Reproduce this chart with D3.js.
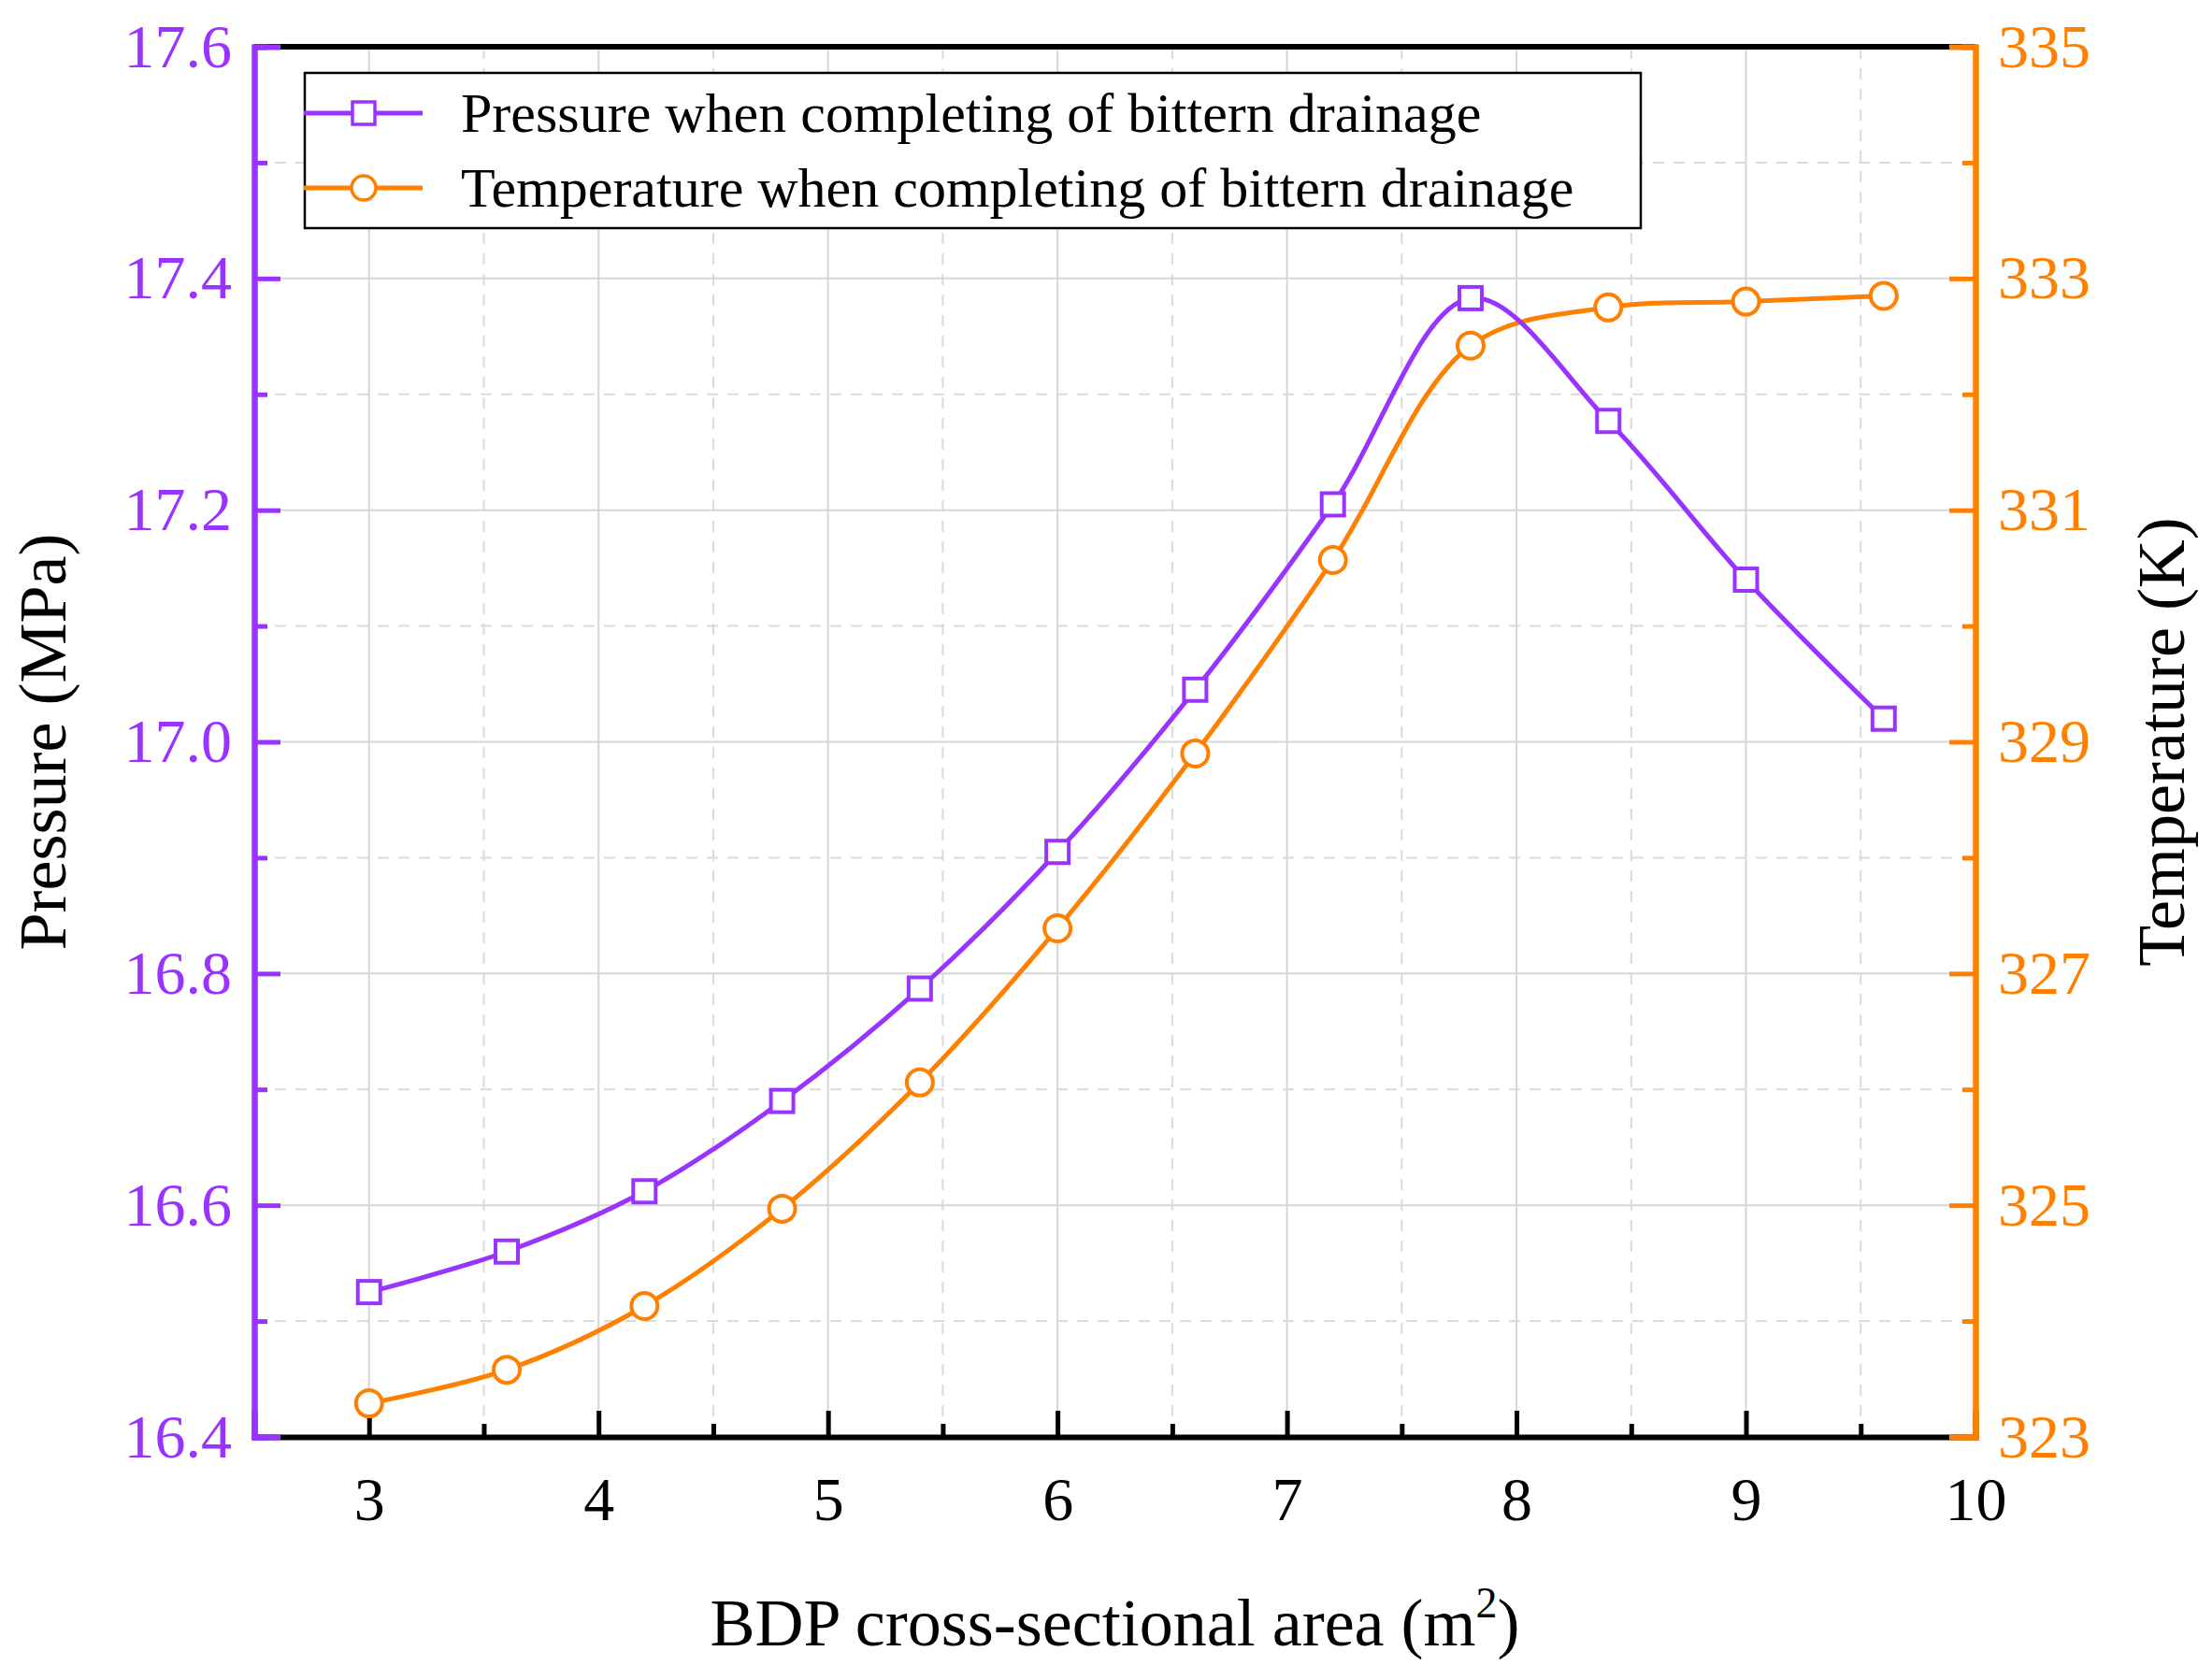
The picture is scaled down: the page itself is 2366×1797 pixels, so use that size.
<!DOCTYPE html>
<html>
<head>
<meta charset="utf-8">
<script src="https://cdn.jsdelivr.net/npm/d3@7"></script>
<style>
  body { margin: 0; background: #fff; }
  svg text { font-family: "Liberation Serif", "Times New Roman", serif !important; }
</style>
</head>
<body>
<div id="chart"></div>
<script>
// chart size and plot box
const width = 2366;
const height = 1797;
const margin = {left: 272, right: 253, top: 50, bottom: 260};

const purple = "#9933ff";
const orange = "#ff8000";
const serif = "Liberation Serif, Times New Roman, serif";

// data
const area = [3, 3.6, 4.2, 4.8, 5.4, 6, 6.6, 7.2, 7.8, 8.4, 9, 9.6];
const pressure = [16.525, 16.56, 16.612, 16.69, 16.787, 16.905, 17.045, 17.205, 17.383, 17.277, 17.14, 17.02];
const temperature = [323.29, 323.58, 324.13, 324.97, 326.06, 327.39, 328.90, 330.57, 332.42, 332.75, 332.80, 332.85];
const xTicks = [3, 4, 5, 6, 7, 8, 9, 10];
const pTicks = [16.4, 16.6, 16.8, 17.0, 17.2, 17.4, 17.6];
const tTicks = [323, 325, 327, 329, 331, 333, 335];

const svg = d3.select("#chart").append("svg")
  .attr("width", width).attr("height", height).attr("font-family", serif);

const x = d3.scaleLinear().domain([2.5, 10]).range([margin.left, width - margin.right]);
const yP = d3.scaleLinear().domain([16.4, 17.6]).range([height - margin.bottom, margin.top]);
const yT = d3.scaleLinear().domain([323, 335]).range([height - margin.bottom, margin.top]);
const x0 = margin.left, x1 = width - margin.right, y0 = height - margin.bottom, y1 = margin.top;

// grid: solid majors, dashed minors
const grid = svg.append("g");
const xMinor = d3.range(3.5, 10, 1);
const yMinor = d3.range(16.5, 17.6, 0.2);
grid.selectAll(".gx").data(xTicks.slice(0, -1)).enter().append("line")
  .attr("x1", d => x(d)).attr("x2", d => x(d)).attr("y1", y0).attr("y2", y1)
  .attr("stroke", "#d6d6d6").attr("stroke-width", 2);
grid.selectAll(".gxm").data(xMinor).enter().append("line")
  .attr("x1", d => x(d)).attr("x2", d => x(d)).attr("y1", y0).attr("y2", y1)
  .attr("stroke", "#dadada").attr("stroke-width", 2).attr("stroke-dasharray", "12,10");
grid.selectAll(".gy").data(pTicks.slice(1, -1)).enter().append("line")
  .attr("x1", x0).attr("x2", x1).attr("y1", d => yP(d)).attr("y2", d => yP(d))
  .attr("stroke", "#d6d6d6").attr("stroke-width", 2);
grid.selectAll(".gym").data(yMinor).enter().append("line")
  .attr("x1", x0).attr("x2", x1).attr("y1", d => yP(d)).attr("y2", d => yP(d))
  .attr("stroke", "#dadada").attr("stroke-width", 2).attr("stroke-dasharray", "12,10");

// axes
const xAxis = svg.append("g").attr("transform", `translate(0,${y0})`)
  .call(d3.axisBottom(x).tickValues(xTicks).tickSize(-28).tickPadding(42).tickFormat(d3.format("d")));
xAxis.selectAll(".tick").filter(d => d === 10).select("line").remove();
svg.append("g").attr("transform", `translate(0,${y0})`)
  .call(d3.axisBottom(x).tickValues(xMinor).tickSize(-14).tickFormat(""))
  .call(g => g.select(".domain").remove());
xAxis.select(".domain").attr("stroke", "#000").attr("stroke-width", 6);
xAxis.selectAll(".tick line").attr("stroke", "#000").attr("stroke-width", 5);
xAxis.selectAll("text").attr("font-size", 66).attr("fill", "#000");
svg.selectAll(".tick line").attr("stroke-width", 5);

// top border
svg.append("line").attr("x1", x0).attr("x2", x1).attr("y1", y1).attr("y2", y1)
  .attr("stroke", "#000").attr("stroke-width", 6);

const lAxis = svg.append("g").attr("transform", `translate(${x0},0)`)
  .call(d3.axisLeft(yP).tickValues(pTicks).tickSize(-28).tickPadding(24).tickFormat(d3.format(".1f")));
svg.append("g").attr("transform", `translate(${x0},0)`)
  .call(d3.axisLeft(yP).tickValues(yMinor).tickSize(-14).tickFormat(""))
  .call(g => g.select(".domain").attr("stroke", purple).attr("stroke-width", 6))
  .selectAll("line").attr("stroke", purple).attr("stroke-width", 5);
lAxis.select(".domain").attr("stroke", purple).attr("stroke-width", 6);
lAxis.selectAll(".tick line").attr("stroke", purple).attr("stroke-width", 5);
lAxis.selectAll("text").attr("font-size", 66).attr("fill", purple);

const tMinor = d3.range(324, 335, 2);
const rAxis = svg.append("g").attr("transform", `translate(${x1},0)`)
  .call(d3.axisRight(yT).tickValues(tTicks).tickSize(-28).tickPadding(24));
svg.append("g").attr("transform", `translate(${x1},0)`)
  .call(d3.axisRight(yT).tickValues(tMinor).tickSize(-14).tickFormat(""))
  .call(g => g.select(".domain").attr("stroke", orange).attr("stroke-width", 6))
  .selectAll("line").attr("stroke", orange).attr("stroke-width", 5);
rAxis.select(".domain").attr("stroke", orange).attr("stroke-width", 6);
rAxis.selectAll(".tick line").attr("stroke", orange).attr("stroke-width", 5);
rAxis.selectAll("text").attr("font-size", 66).attr("fill", orange);
svg.selectAll("g").attr("font-family", serif);

// axis titles
const xt = svg.append("text").attr("x", (x0 + x1) / 2).attr("y", 1760)
  .attr("text-anchor", "middle").attr("font-size", 72);
xt.append("tspan").text("BDP cross-sectional area (m");
xt.append("tspan").text("2").attr("font-size", 46).attr("dy", -30);
xt.append("tspan").text(")").attr("dy", 30);
svg.append("text").attr("transform", `translate(70,${(y0 + y1) / 2}) rotate(-90)`)
  .attr("text-anchor", "middle").attr("font-size", 72).text("Pressure (MPa)");
svg.append("text").attr("transform", `translate(2336,${(y0 + y1) / 2}) rotate(-90)`)
  .attr("text-anchor", "middle").attr("font-size", 72).text("Temperature (K)");

// lines and markers
const curve = d3.curveCatmullRom.alpha(0.5);
const pLine = d3.line().x((d, i) => x(area[i])).y(d => yP(d)).curve(curve);
const tLine = d3.line().x((d, i) => x(area[i])).y(d => yT(d)).curve(curve);
svg.append("path").attr("d", tLine(temperature)).attr("fill", "none")
  .attr("stroke", orange).attr("stroke-width", 5);
svg.append("path").attr("d", pLine(pressure)).attr("fill", "none")
  .attr("stroke", purple).attr("stroke-width", 5);
svg.selectAll(".tm").data(temperature).enter().append("circle")
  .attr("cx", (d, i) => x(area[i])).attr("cy", d => yT(d)).attr("r", 14)
  .attr("fill", "#fff").attr("stroke", orange).attr("stroke-width", 4);
svg.selectAll(".pm").data(pressure).enter().append("rect")
  .attr("x", (d, i) => x(area[i]) - 12).attr("y", d => yP(d) - 12)
  .attr("width", 24).attr("height", 24)
  .attr("fill", "#fff").attr("stroke", purple).attr("stroke-width", 4);

// legend
const lg = svg.append("g");
lg.append("rect").attr("x", 326).attr("y", 78).attr("width", 1429).attr("height", 166)
  .attr("fill", "#fff").attr("stroke", "#000").attr("stroke-width", 2.5);
const items = [
  {label: "Pressure when completing of bittern drainage", color: purple, y: 121, square: true},
  {label: "Temperature when completing of bittern drainage", color: orange, y: 201, square: false}
];
items.forEach(it => {
  lg.append("line").attr("x1", 325).attr("x2", 452).attr("y1", it.y).attr("y2", it.y)
    .attr("stroke", it.color).attr("stroke-width", 5);
  if (it.square) {
    lg.append("rect").attr("x", 377).attr("y", it.y - 12).attr("width", 24).attr("height", 24)
      .attr("fill", "#fff").attr("stroke", it.color).attr("stroke-width", 3.5);
  } else {
    lg.append("circle").attr("cx", 389).attr("cy", it.y).attr("r", 13)
      .attr("fill", "#fff").attr("stroke", it.color).attr("stroke-width", 3.5);
  }
  lg.append("text").attr("x", 493).attr("y", it.y + 20).attr("font-size", 60).text(it.label);
});
</script>
</body>
</html>
